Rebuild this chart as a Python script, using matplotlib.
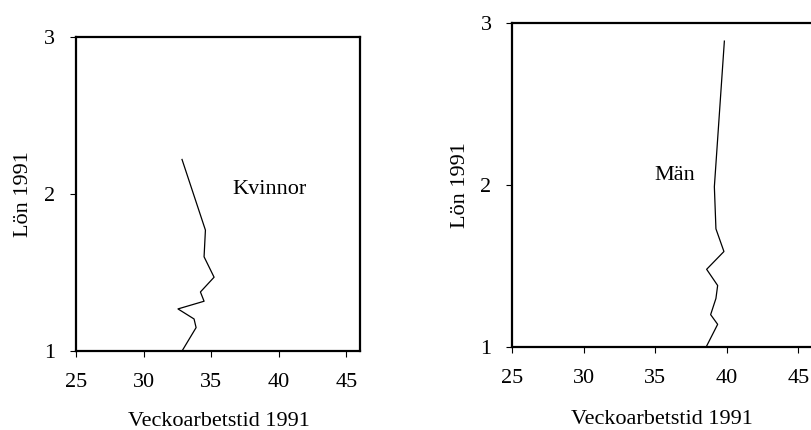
import numpy as np
import matplotlib
matplotlib.use('Agg')
import matplotlib.pyplot as plt

plt.rcParams['font.family'] = ['Liberation Serif', 'DejaVu Serif']

# Kvinnor (women): hours per week vs wage
kv_hours = [32.84, 34.57, 34.47, 35.21, 34.20, 34.47, 32.54, 33.73, 33.88, 32.84]
kv_wage = [2.22, 1.77, 1.60, 1.47, 1.376, 1.317, 1.268, 1.204, 1.149, 1.00]

# Män (men)
man_hours = [39.83, 39.13, 39.24, 39.80, 38.59, 39.36, 39.24, 38.87, 39.36, 38.59]
man_wage = [2.89, 1.99, 1.73, 1.59, 1.48, 1.38, 1.30, 1.20, 1.14, 1.006]

xticks = [25, 30, 35, 40, 45]
yticks = [1, 2, 3]

fig = plt.figure(figsize=(8.11, 4.30), dpi=100)
ax1 = fig.add_axes([76 / 811, (430 - 351) / 430, 284 / 811, 314 / 430])
ax2 = fig.add_axes([512.3 / 811, (430 - 347) / 430, 300.3 / 811, 323.7 / 430])

panels = [
    (ax1, kv_hours, kv_wage, 'Kvinnor', (39.33, 2.03)),
    (ax2, man_hours, man_wage, 'Män', (36.38, 2.06)),
]

fs = 16
for ax, xs, ys, name, pos in panels:
    ax.plot(xs, ys, color='black', lw=0.9)
    ax.set_xlim(25, 46)
    ax.set_ylim(1, 3)
    ax.set_xticks(xticks)
    ax.set_yticks(yticks)
    for s in ax.spines.values():
        s.set_linewidth(1.6)
    ax.tick_params(direction='out', length=4.5, width=0.8, labelsize=fs)
    ax.tick_params(axis='x', pad=11.5)
    ax.tick_params(axis='y', pad=10.5)
    ax.set_xlabel('Veckoarbetstid 1991', fontsize=fs)
    ax.set_ylabel('Lön 1991', fontsize=fs)
    ax.text(pos[0], pos[1], name, fontsize=fs, ha='center', va='center')

ax1.xaxis.set_label_coords(0.502, -0.194)
ax1.yaxis.set_label_coords(-0.151, 0.5)
ax2.xaxis.set_label_coords(0.4975, -0.194)
ax2.yaxis.set_label_coords(-0.141, 0.5)

fig.savefig('out.png', dpi=100)
